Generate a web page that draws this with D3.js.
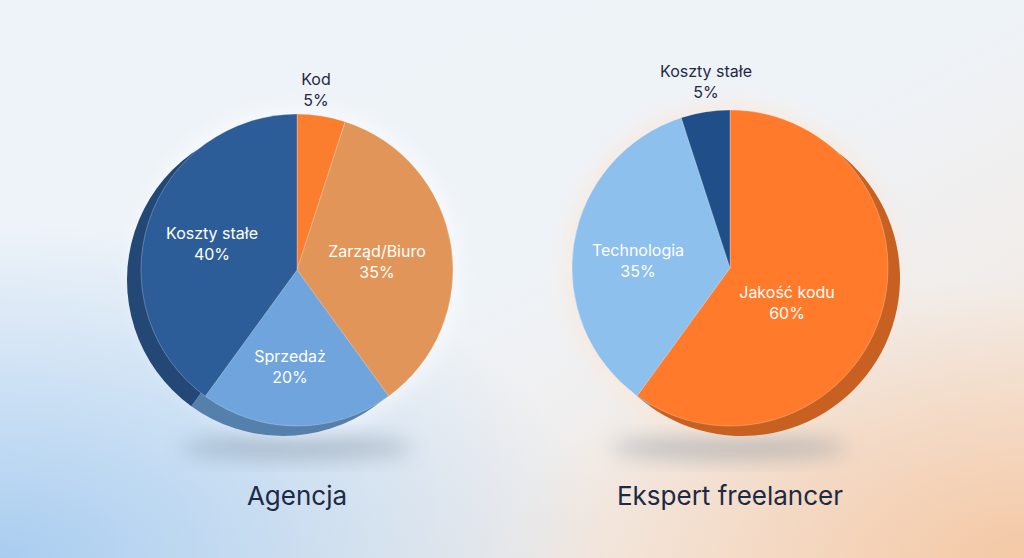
<!DOCTYPE html><html><head><meta charset="utf-8">
<script src="https://cdn.jsdelivr.net/npm/d3@7"></script>
<style>body{margin:0}svg{display:block}</style></head><body>
<svg id="c" width="1024" height="558"></svg>
<script>
const agencyLabels=["Kod","Zarząd/Biuro","Sprzedaż","Koszty stałe"];
const agencyValues=[5,35,20,40];
const agencyColors=["#fb7d2e","#e29558","#6fa4dd","#2d5d98"];
const freeLabels=["Jakość kodu","Technologia","Koszty stałe"];
const freeValues=[60,35,5];
const freeColors=["#ff7b2b","#8ec0ee","#1f4e88"];
const titles=["Agencja","Ekspert freelancer"];

const svg=d3.select("#c");
const defs=svg.append("defs");
const bg=defs.append("linearGradient").attr("id","bg").attr("x1",0).attr("y1",0).attr("x2",1).attr("y2",1);
bg.append("stop").attr("offset","0").attr("stop-color","#eef3f9");
bg.append("stop").attr("offset","0.5").attr("stop-color","#eef3f8");
bg.append("stop").attr("offset","1").attr("stop-color","#f6e6da");
svg.append("rect").attr("width",1024).attr("height",558).attr("fill","url(#bg)");
const rg=defs.append("radialGradient").attr("id","lb").attr("cx",0).attr("cy",1).attr("r",0.6);
rg.append("stop").attr("offset","0").attr("stop-color","#a9cdf0");
rg.append("stop").attr("offset","1").attr("stop-color","#a9cdf0").attr("stop-opacity",0);
svg.append("rect").attr("width",1024).attr("height",558).attr("fill","url(#lb)");
const rg2=defs.append("radialGradient").attr("id","rb").attr("cx",1).attr("cy",1).attr("r",0.5);
rg2.append("stop").attr("offset","0").attr("stop-color","#f4c9a6");
rg2.append("stop").attr("offset","1").attr("stop-color","#f4c9a6").attr("stop-opacity",0);
svg.append("rect").attr("width",1024).attr("height",558).attr("fill","url(#rb)");
defs.append("filter").attr("id","blur").attr("x","-50%").attr("y","-50%").attr("width","200%").attr("height","200%")
 .append("feGaussianBlur").attr("stdDeviation",10);

function drawPie(cx,cy,r,labels,values,colors,dx,title,labelPos,glow){
  const g=svg.append("g").attr("transform",`translate(${cx},${cy})`);
  g.append("ellipse").attr("cx",0).attr("cy",r+22).attr("rx",r*0.75).attr("ry",12).attr("fill","#6b7a8c").attr("opacity",0.35).attr("filter","url(#blur)");
  g.append("circle").attr("r",r+8).attr("fill",glow).attr("opacity",0.5).attr("filter","url(#blur)");
  const arcs=d3.pie().sort(null).value(d=>d)(values);
  const arc=d3.arc().innerRadius(0).outerRadius(r);
  const side=g.append("g").attr("transform",`translate(${dx},10)`);
  side.selectAll("path").data(arcs).join("path").attr("d",arc)
    .attr("fill",(d,i)=>d3.color(colors[i]).darker(0.7));
  g.selectAll("path.s").data(arcs).join("path").attr("class","s").attr("d",arc)
    .attr("fill",(d,i)=>colors[i]).attr("stroke","rgba(255,255,255,0.25)").attr("stroke-width",1);
  labels.forEach((l,i)=>{
    const [x,y,col]=labelPos[i];
    const t=g.append("text").attr("text-anchor","middle").attr("font-family","Inter, sans-serif")
      .attr("font-size",16).attr("fill",col);
    t.append("tspan").attr("x",x).attr("y",y).text(l);
    t.append("tspan").attr("x",x).attr("y",y+21).text(values[i]+"%");
  });
  svg.append("text").attr("x",cx).attr("y",505).attr("text-anchor","middle").attr("font-family","Inter, sans-serif")
    .attr("font-size",26).attr("fill","#1e2a44").text(title);
}
drawPie(297,270,156,agencyLabels,agencyValues,agencyColors,-14,titles[0],
  [[19,-185,"#1e2a44"],[80,-13,"#ffffff"],[-7,92,"#ffffff"],[-85,-31,"#ffffff"]],"#ffffff");
drawPie(730,268,158,freeLabels,freeValues,freeColors,12,titles[1],
  [[57,30,"#ffffff"],[-92,-12,"#ffffff"],[-24,-191,"#1e2a44"]],"#ffe3cc");
</script></body></html>
